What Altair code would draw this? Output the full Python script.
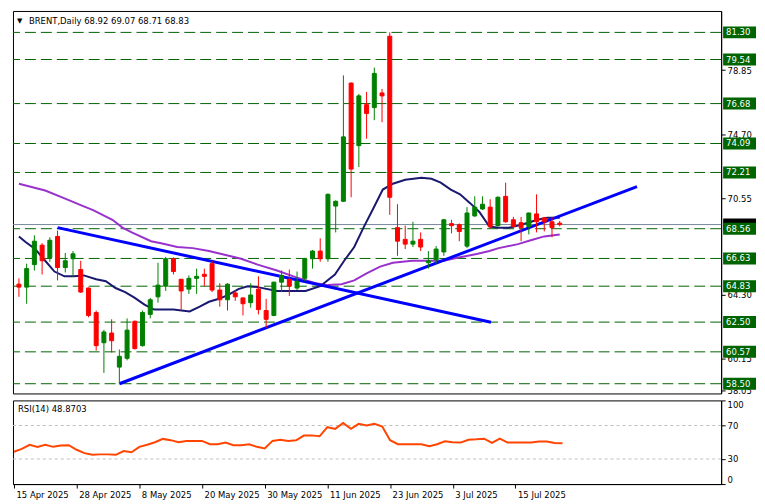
import json
import altair as alt
import pandas as pd

# ---------------- data ----------------
date_labels = ["15 Apr 2025", "28 Apr 2025", "8 May 2025", "20 May 2025", "30 May 2025",
               "11 Jun 2025", "23 Jun 2025", "3 Jul 2025", "15 Jul 2025"]
date_bars = [0, 8, 16, 24, 32, 40, 48, 56, 64]

opens = [64.96, 64.77, 66.23, 67.49, 66.67, 68.06, 66.04, 66.61, 65.91, 64.71,
         63.12, 61.16, 61.79, 59.58, 60.15, 62.55, 60.97, 63.00, 64.14, 64.83,
         66.61, 65.28, 64.64, 65.34, 65.60, 66.29, 64.58, 63.95, 64.39, 64.07,
         63.76, 64.64, 63.25, 62.93, 65.09, 65.28, 64.71, 65.34, 66.61, 67.11,
         66.61, 70.03, 70.34, 78.01, 73.95, 76.61, 76.42, 77.37, 81.05, 68.63,
         67.87, 67.56, 67.87, 66.35, 66.54, 67.05, 68.89, 68.82, 67.43, 69.39,
         69.84, 69.96, 68.76, 70.66, 69.14, 68.95, 68.70, 69.52, 69.26, 69.01,
         68.92]
highs = [65.34, 66.29, 68.13, 67.62, 68.00, 68.44, 66.99, 67.11, 66.48, 64.75,
         63.25, 62.00, 62.68, 60.72, 62.74, 62.60, 63.25, 64.07, 66.35, 66.73,
         66.70, 65.30, 65.53, 65.97, 65.97, 66.48, 65.02, 65.02, 64.58, 64.07,
         65.02, 65.47, 64.01, 65.12, 65.85, 65.91, 65.78, 66.67, 67.18, 67.94,
         70.85, 70.40, 78.51, 78.05, 77.31, 77.44, 79.02, 77.63, 81.30, 70.15,
         68.76, 69.01, 68.32, 67.11, 67.43, 69.20, 69.14, 68.90, 69.96, 70.66,
         70.66, 70.47, 70.66, 71.55, 69.33, 69.33, 69.60, 70.79, 69.33, 69.33,
         69.07]
lows = [64.14, 63.69, 65.85, 65.59, 66.42, 65.21, 65.72, 65.47, 64.39, 62.81,
        60.65, 59.20, 60.53, 58.50, 60.02, 60.72, 60.91, 62.74, 63.76, 64.52,
        65.59, 63.31, 64.33, 64.33, 64.83, 64.45, 63.50, 63.25, 63.88, 62.93,
        63.44, 63.00, 62.11, 62.88, 64.45, 64.20, 64.58, 65.15, 65.97, 66.42,
        66.42, 68.32, 70.30, 70.60, 72.56, 74.40, 75.60, 75.47, 69.46, 66.80,
        67.24, 67.37, 67.11, 65.97, 66.29, 66.80, 68.26, 67.75, 67.30, 69.33,
        69.77, 68.57, 68.70, 68.95, 68.57, 67.75, 68.19, 68.32, 68.38, 68.00,
        68.71]
closes = [64.77, 65.97, 67.75, 66.48, 67.81, 66.04, 66.48, 66.93, 64.45, 62.93,
          60.97, 61.86, 61.29, 60.28, 61.98, 60.78, 63.12, 63.95, 64.90, 66.61,
          65.78, 64.52, 65.34, 65.47, 65.47, 64.58, 63.95, 64.96, 64.14, 63.69,
          64.26, 63.31, 62.68, 65.09, 65.53, 64.83, 65.15, 66.61, 67.11, 66.61,
          70.79, 70.34, 74.52, 72.43, 77.18, 76.04, 78.64, 77.18, 70.60, 67.75,
          67.56, 67.75, 67.37, 66.48, 67.24, 69.14, 68.76, 68.38, 69.58, 69.96,
          70.15, 68.70, 70.60, 69.01, 68.70, 68.63, 69.58, 69.01, 69.01, 68.63,
          68.83]

fast_ma_bar = [0, 0.9, 2.1, 3.4, 4.6, 5.9, 7.1, 8.4, 10, 11.25, 12.5, 13.75, 15, 16.25,
               17.5, 20, 22.1, 23.4, 24.6, 25.9, 27.1, 28.4, 29.6, 30.9, 33.4, 37.1, 39,
               40.9, 42.1, 43.4, 44.6, 45.9, 47.1, 48.4, 50, 52.1, 53.4, 54.6, 55.9, 57.1,
               58.4, 59.6, 60.9, 62.1, 63.4, 64.6, 65.9, 67.1, 68.4, 70]
fast_ma_val = [68.06, 67.68, 67.24, 66.48, 65.78, 65.47, 65.47, 65.53, 65.28, 65.15,
               64.71, 64.45, 64.07, 63.63, 63.31, 63.31, 63.19, 63.50, 63.82, 64.01,
               64.26, 64.64, 64.83, 64.77, 64.52, 64.52, 64.83, 65.59, 66.48, 67.37,
               68.63, 69.90, 71.10, 71.48, 71.74, 71.86, 71.80, 71.55, 71.10, 70.79,
               70.22, 69.65, 68.70, 68.63, 68.63, 68.76, 68.95, 69.14, 69.27, 69.27]

slow_ma_bar = [0, 3.4, 5.9, 8, 9.6, 12.1, 13.4, 14.6, 17.1, 18.4, 20.5, 22.5, 24.6, 26.75,
               28.75, 30.9, 33.4, 35.9, 38.4, 40, 41.75, 43.4, 45, 46.75, 48.4, 50.9, 55,
               56.75, 59.25, 60.9, 62.1, 64.6, 66.25, 68, 70]
slow_ma_val = [71.48, 71.04, 70.53, 70.09, 69.77, 69.14, 68.63, 68.32, 67.75, 67.62,
               67.37, 67.30, 67.11, 66.86, 66.61, 66.23, 65.85, 65.40, 65.02, 64.90,
               64.96, 65.21, 65.66, 66.10, 66.35, 66.48, 66.48, 66.67, 66.92, 67.11,
               67.30, 67.56, 67.81, 68.06, 68.19]

trend_name = ["down", "down", "up", "up"]
trend_bar = [5, 61.1, 13, 80]
trend_price = [68.63, 62.49, 58.50, 71.29]

levels = [81.30, 79.54, 76.68, 74.09, 72.21, 68.56, 66.63, 64.83, 62.50, 60.57, 58.50]
last_price = [68.83]
price_ticks = [58.05, 60.15, 64.30, 70.55, 74.70, 78.85]

rsi = [38.6, 42.0, 47.0, 44.5, 47.0, 44.5, 46.0, 46.5, 41.0, 37.0,
       35.0, 35.5, 35.5, 35.0, 39.5, 38.0, 44.5, 47.0, 50.0, 54.0,
       52.5, 50.0, 51.5, 51.6, 51.6, 47.6, 47.6, 49.6, 46.5, 46.5,
       47.6, 44.5, 42.5, 51.6, 53.1, 51.6, 52.4, 58.0, 58.2, 57.1,
       68.0, 66.0, 73.0, 66.0, 72.0, 70.0, 72.0, 68.8, 52.4, 47.6,
       47.6, 47.6, 47.6, 45.3, 47.6, 51.2, 50.0, 49.6, 53.0, 53.5,
       54.3, 49.2, 54.3, 49.6, 49.6, 49.6, 49.6, 50.8, 50.8, 49.2,
       48.87]
rsi_levels = [30, 70]
rsi_ticks = [0, 30, 70, 100]

title_text = "BRENT,Daily  68.92 69.07 68.71 68.83"
rsi_text = "RSI(14) 48.8703"

# ---------------- layout ----------------
W = 711
H1 = 384
H2 = 84
FONT = "DejaVu Sans"
FS = 8.5

xs = alt.Scale(domain=[-0.125, 90.25], nice=False, zero=False)
ys = alt.Scale(domain=[57.87, 82.69], nice=False, zero=False)
rs = alt.Scale(domain=[0, 100], nice=False, zero=False)

yax = alt.Axis(orient="right", values=price_ticks, format=".2f",
               labelFont=FONT, labelFontSize=FS, labelColor="black",
               tickSize=4, tickColor="black", domainColor="black",
               labelPadding=2, grid=False, labelOverlap=False, title=None)
rax = alt.Axis(orient="right", values=rsi_ticks, labelFlush=True,
               labelFont=FONT, labelFontSize=FS, labelColor="black",
               tickSize=4, tickColor="black", domainColor="black",
               labelPadding=2, grid=False, title=None)


def Y(field):
    return alt.Y(field, scale=ys, axis=yax, title=None)


def XM():
    return alt.X("bar:Q", scale=xs, axis=None)


n = len(opens)
candles = pd.DataFrame({
    "bar": list(range(n)), "open": opens, "high": highs, "low": lows, "close": closes,
    "dir": ["up" if c >= o else "down" for o, c in zip(opens, closes)],
})
cscale = alt.Scale(domain=["up", "down"], range=["#008000", "#FF0000"])

levels_df = pd.DataFrame({"level": levels})
last_df = pd.DataFrame({"level": last_price})

level_rules = alt.Chart(levels_df).mark_rule(
    color="#006400", strokeDash=[11, 5], strokeWidth=1
).encode(y=Y("level:Q"))

last_rule = alt.Chart(last_df).mark_rule(color="#778899", strokeWidth=1).encode(
    y=Y("level:Q"))

slow_df = pd.DataFrame({"bar": slow_ma_bar, "v": slow_ma_val})
fast_df = pd.DataFrame({"bar": fast_ma_bar, "v": fast_ma_val})
slow_line = alt.Chart(slow_df).mark_line(color="#9932CC", strokeWidth=2).encode(
    x=XM(), y=Y("v:Q"))
fast_line = alt.Chart(fast_df).mark_line(color="#191970", strokeWidth=2).encode(
    x=XM(), y=Y("v:Q"))

wicks = alt.Chart(candles).mark_rule(strokeWidth=1).encode(
    x=XM(), y=Y("low:Q"), y2="high:Q",
    color=alt.Color("dir:N", scale=cscale, legend=None))
bodies = alt.Chart(candles).mark_bar(size=4, strokeWidth=1).encode(
    x=XM(), y=Y("open:Q"), y2="close:Q",
    color=alt.Color("dir:N", scale=cscale, legend=None),
    stroke=alt.Stroke("dir:N", scale=cscale, legend=None))

trend_df = pd.DataFrame({"name": trend_name, "bar": trend_bar, "p": trend_price})
trends = alt.Chart(trend_df).mark_line(color="#0000FF", strokeWidth=3).encode(
    x=XM(), y=Y("p:Q"), detail="name:N")

last_box = alt.Chart(last_df).mark_rect(color="black", yOffset=-6, y2Offset=6).encode(
    x=alt.value(W + 2), x2=alt.value(W + 35),
    y=Y("level:Q"), y2=alt.Y2("level"))
lvl_box = alt.Chart(levels_df).mark_rect(color="#006400", yOffset=-6, y2Offset=6).encode(
    x=alt.value(W + 2), x2=alt.value(W + 35),
    y=Y("level:Q"), y2=alt.Y2("level"))
lvl_txt = alt.Chart(levels_df).mark_text(align="left", baseline="middle", color="white",
                                         font=FONT, fontSize=FS).encode(
    x=alt.value(W + 5), y=Y("level:Q"),
    text=alt.Text("level:Q", format=".2f"))

title_df = pd.DataFrame({"t": [title_text]})
tri = alt.Chart(title_df).mark_text(align="left", baseline="middle", color="black",
                                    font=FONT, fontSize=7, text="▼").encode(
    x=alt.value(4), y=alt.value(10))
title = alt.Chart(title_df).mark_text(align="left", baseline="middle", color="black",
                                      font=FONT, fontSize=FS).encode(
    x=alt.value(16), y=alt.value(10), text="t:N")

main = alt.layer(level_rules, last_rule, slow_line, fast_line, trends, wicks, bodies,
                 last_box, lvl_box, lvl_txt, tri, title).properties(
    width=W, height=H1)

# ---------------- RSI panel ----------------
rsi_df = pd.DataFrame({"bar": list(range(n)), "rsi": rsi})
label_expr = ("%s[indexof(%s, datum.value)]"
              % (json.dumps(date_labels), json.dumps(date_bars)))

rsi_rules = alt.Chart(pd.DataFrame({"r": rsi_levels})).mark_rule(
    color="#C0C0C0", strokeDash=[3, 3], strokeWidth=1
).encode(y=alt.Y("r:Q", scale=rs, axis=rax, title=None))
rsi_line = alt.Chart(rsi_df).mark_line(color="#FF4500", strokeWidth=2).encode(
    x=alt.X("bar:Q", scale=xs, title=None,
            axis=alt.Axis(orient="bottom", values=date_bars, labelExpr=label_expr,
                          labelAlign="left", labelBaseline="top", labelFlush=False,
                          labelOverlap=False, labelBound=False, labelOffset=2,
                          labelFont=FONT, labelFontSize=FS, labelColor="black",
                          tickSize=4, tickColor="black", domainColor="black",
                          labelPadding=2, grid=False, title=None)),
    y=alt.Y("rsi:Q", scale=rs, axis=rax, title=None))
rsi_title = alt.Chart(pd.DataFrame({"t": [rsi_text]})).mark_text(
    align="left", baseline="middle", color="black", font=FONT, fontSize=FS
).encode(x=alt.value(5), y=alt.value(9), text="t:N")

rsi_panel = alt.layer(rsi_rules, rsi_line, rsi_title).properties(width=W, height=H2)

chart = alt.vconcat(main, rsi_panel, spacing=3).properties(
    padding={"left": 1, "top": 1, "right": 0, "bottom": 0},
    background="white",
).configure_view(stroke="black", strokeWidth=1).configure_axis(grid=False)

chart.save("out.html", embed_options={"renderer": "svg", "actions": False})
